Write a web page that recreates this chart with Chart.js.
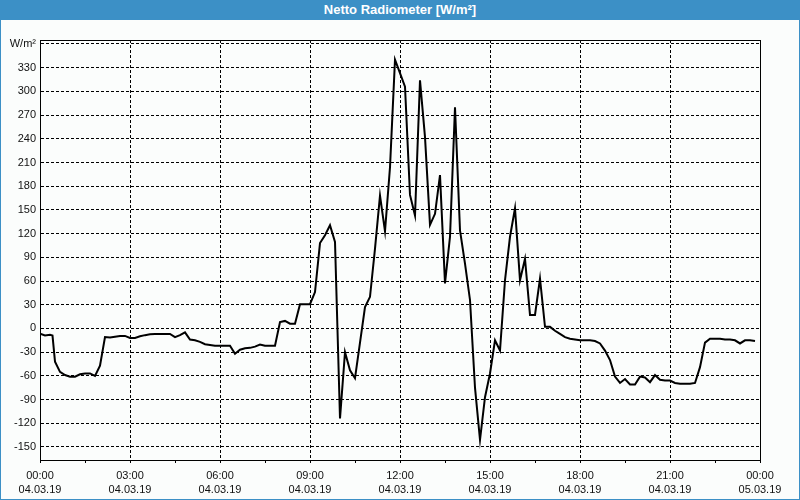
<!DOCTYPE html>
<html><head><meta charset="utf-8">
<script src="https://cdn.jsdelivr.net/npm/chart.js@4/dist/chart.umd.min.js"></script>
<style>
html,body{margin:0;padding:0;background:#fbfdfc;}
#wrap{position:relative;width:800px;height:500px;background:#fbfdfc;overflow:hidden;}
#title{position:absolute;left:0;top:0;width:800px;height:20px;background:#3c90c6;color:#fff;font:bold 13px "Liberation Sans",Arial,sans-serif;line-height:20px;text-align:center;}
#frame{position:absolute;left:0;top:0;width:798px;height:498px;border:1px solid #3c90c6;pointer-events:none;}
#cv{position:absolute;left:0;top:20px;}
</style></head>
<body><div id="wrap"><div id="title">Netto Radiometer [W/m²]</div><canvas id="cv" width="800" height="480"></canvas><div id="frame"></div></div>
<script>
// time of day in minutes (04.03.19)
const minutes = [0,10,20,25,30,40,50,60,70,80,90,100,110,120,130,140,150,160,170,180,190,200,210,220,230,240,250,260,270,280,290,300,310,320,330,340,350,360,370,380,390,400,410,420,430,440,450,460,470,480,490,500,510,520,530,540,550,560,570,580,590,600,610,620,630,640,650,660,670,680,690,700,710,720,730,740,750,760,770,780,790,800,810,820,830,840,850,860,870,880,890,900,910,920,930,940,950,960,970,980,990,1000,1010,1020,1030,1040,1050,1060,1070,1080,1090,1100,1110,1120,1130,1140,1150,1160,1170,1180,1190,1200,1210,1220,1230,1240,1250,1260,1270,1280,1290,1300,1310,1320,1330,1340,1350,1360,1370,1380,1390,1400,1410,1420,1430];
// net radiation W/m²
const values = [-6.5,-9,-8,-9,-42,-55,-59,-61,-61,-58,-57,-57,-60,-47,-11,-11.5,-10.5,-9.5,-9.5,-12,-12,-10,-8.5,-7.3,-7,-7,-7,-7,-11,-8.5,-5,-14,-15,-17,-20,-21,-22,-22,-22,-22,-32,-27,-25,-24.6,-23,-20.5,-22,-22,-22,8,9.5,6,6,30.6,30.6,30.6,46,108,118,130.6,109.5,-114,-30,-53,-63,-18,27,40,101,168,123,204,340,323,306,169,143,314,242,131,145,194,57,116,280,124,82,36,-75,-141,-87,-57,-15,-28,61,116,152,61,88,17,17,63,2,2,-3,-7,-11,-13,-14,-15,-15,-15,-16,-19,-28,-40,-61,-69,-64,-71,-71,-61,-62,-68,-59,-65,-66,-66,-69,-70,-70,-70,-69,-49,-18,-13,-13,-13,-14,-14,-15,-19,-15,-15,-16];
const yTickValues = [-150,-120,-90,-60,-30,0,30,60,90,120,150,180,210,240,270,300,330,360];
const timeLabels = ['00:00','03:00','06:00','09:00','12:00','15:00','18:00','21:00','00:00'];
const dateLabels = ['04.03.19','04.03.19','04.03.19','04.03.19','04.03.19','04.03.19','04.03.19','04.03.19','05.03.19'];
const unitLabel = 'W/m²';

const pts = minutes.map((m,i)=>({x:m,y:values[i]}));
const font = {family:'"Liberation Sans", Arial, sans-serif', size:11};

const frame = {
  id:'frame',
  afterDraw(chart){
    const a = chart.chartArea, c = chart.ctx;
    c.save(); c.strokeStyle='#000'; c.lineWidth=1;
    c.strokeRect(a.left+0.5, a.top+0.5, a.right-a.left, a.bottom-a.top);
    c.restore();
  }
};

new Chart(document.getElementById('cv'), {
  type:'line',
  data:{datasets:[{data:pts, borderColor:'#000', borderWidth:2, pointRadius:0, tension:0, fill:false}]},
  options:{
    responsive:false, animation:false, devicePixelRatio:1,
    layout:{padding:{left:0,right:40,top:20,bottom:0}},
    plugins:{legend:{display:false}, tooltip:{enabled:false}},
    scales:{
      x:{type:'linear', min:0, max:1440,
        afterBuildTicks:s=>{const t=[];for(let m=0;m<=1440;m+=90)t.push({value:m});s.ticks=t;},
        afterFit:s=>{s.height=40;},
        ticks:{autoSkip:false, maxRotation:0, padding:5, color:'#111', font:{...font, lineHeight:1.36},
          callback:v=> v%180===0 ? [timeLabels[v/180], dateLabels[v/180]] : ''},
        grid:{color:c=> (c.tick && c.tick.value%180===0) ? '#000' : 'rgba(0,0,0,0)', lineWidth:1, tickColor:'#000', tickLength:3, drawTicks:true},
        border:{display:true, color:'#000', width:1, dash:[3,2]}
      },
      y:{min:-166.5, max:365,
        afterBuildTicks:s=>{s.ticks=yTickValues.map(v=>({value:v}));},
        afterFit:s=>{s.width=40;},
        ticks:{padding:4, color:'#111', font:font, callback:v=> v===360 ? unitLabel : String(v)},
        grid:{color:'#000', lineWidth:1, drawTicks:false},
        border:{display:true, color:'#000', width:1, dash:[3,2]}
      }
    }
  },
  plugins:[frame]
});
</script>
</body></html>
